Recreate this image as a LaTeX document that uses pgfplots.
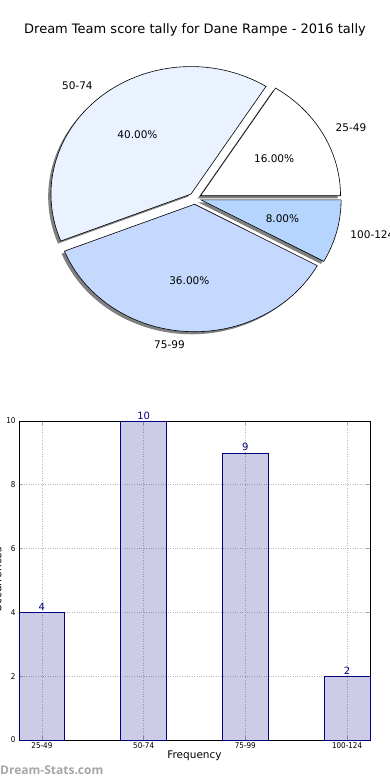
\documentclass[border=0pt]{standalone}
\usepackage{fontspec}
\setmainfont{DejaVu Sans}
\newfontfamily\cond{DejaVu Sans Condensed}
\newfontfamily\wm{Open Sans}
\usepackage{pgfplots}
\pgfplotsset{compat=1.18}
\definecolor{cA}{RGB}{255,255,255}
\definecolor{cB}{RGB}{234,241,255}
\definecolor{cC}{RGB}{197,217,255}
\definecolor{cD}{RGB}{181,213,255}
\definecolor{baredge}{RGB}{0,0,128}
\definecolor{shadowc}{RGB}{128,128,128}
\begin{document}
\begin{tikzpicture}
\useasboundingbox (0pt,0pt) rectangle (390pt,780pt);
\node[font=\fontsize{13}{15}\selectfont] at (195pt,750pt) {Dream Team score tally for Dane Rampe - 2016 tally};
% ---------------- pie (shares 16, 40, 36, 8 percent) ----------------
\begin{axis}[at={(0pt,430pt)}, anchor=south west, scale only axis,
  width=390pt, height=300pt,
  xmin=-1.392857, xmax=1.392857, ymin=-1.18824, ymax=1.16471,
  axis lines=none, clip=false]
% shadows
\addplot[fill=shadowc, draw=none, domain=0:57.6, samples=60] ({0.019434+cos(x)},{0.001679+sin(x)}) -- (0.019434,0.001679) -- cycle;
\addplot[fill=shadowc, draw=none, domain=57.6:201.6, samples=100] ({-0.048684+cos(x)},{0.014673+sin(x)}) -- (-0.048684,0.014673) -- cycle;
\addplot[fill=shadowc, draw=none, domain=201.6:331.2, samples=100] ({-0.0228256+cos(x)},{-0.064911+sin(x)}) -- (-0.0228256,-0.064911) -- cycle;
\addplot[fill=shadowc, draw=none, domain=331.2:360, samples=40] ({0.023586+cos(x)},{-0.031191+sin(x)}) -- (0.023586,-0.031191) -- cycle;
% wedges
\addplot[fill=cA, draw=black, line width=0.6pt, domain=0:57.6, samples=60] ({0.039434+cos(x)},{0.021679+sin(x)}) -- (0.039434,0.021679) -- cycle;
\addplot[fill=cB, draw=black, line width=0.6pt, domain=57.6:201.6, samples=100] ({-0.028684+cos(x)},{0.034673+sin(x)}) -- (-0.028684,0.034673) -- cycle;
\addplot[fill=cC, draw=black, line width=0.6pt, domain=201.6:331.2, samples=100] ({-0.0028256+cos(x)},{-0.044911+sin(x)}) -- (-0.0028256,-0.044911) -- cycle;
\addplot[fill=cD, draw=black, line width=0.6pt, domain=331.2:360, samples=40] ({0.043586+cos(x)},{-0.011191+sin(x)}) -- (0.043586,-0.011191) -- cycle;
% labels
\begin{scope}[every node/.style={font=\fontsize{10.5}{12}\selectfont, inner sep=0pt}]
\node[anchor=west] at (axis cs:1.003375,0.551604) {25-49};
\node[anchor=east] at (axis cs:-0.729846,0.882234) {50-74};
\node[anchor=east] at (axis cs:-0.071896,-1.142741) {75-99};
\node[anchor=west] at (axis cs:1.109027,-0.28475) {100-124};
\node at (axis cs:0.56522,0.310729) {16.00\%};
\node at (axis cs:-0.411136,0.496979) {40.00\%};
\node at (axis cs:-0.0405,-0.643727) {36.00\%};
\node at (axis cs:0.624736,-0.160405) {8.00\%};
\end{scope}
\end{axis}
% ---------------- bar chart ----------------
\begin{axis}[at={(19pt,40pt)}, anchor=south west, scale only axis,
  width=351pt, height=319pt,
  xmin=-0.225, xmax=3.225, ymin=0, ymax=10,
  ybar, bar width=0.45,
  xtick={0,1,2,3}, xticklabels={25-49,50-74,75-99,100-124},
  ytick={0,2,4,6,8,10},
  grid=major, grid style={gray!55, dotted, line width=0.7pt},
  tick align=inside, major tick length=4pt,
  tick style={gray!70, line width=0.6pt},
  ticklabel style={font=\cond\fontsize{8}{9}\selectfont},
  xticklabel style={yshift=1pt},
  /pgf/number format/assume math mode=true,
  xlabel={Frequency},
  xlabel style={font=\fontsize{10.5}{12}\selectfont, yshift=5pt},
  nodes near coords,
  nodes near coords style={font=\fontsize{10}{12}\selectfont, text=baredge, inner sep=1.5pt, text opacity=1},
  axis line style={black, line width=0.8pt},
  clip=false]
\addplot[fill=baredge, fill opacity=0.2, draw=baredge, draw opacity=1, line width=0.7pt] coordinates {(0,4) (1,10) (2,9) (3,2)};
\end{axis}
\node[rotate=90, anchor=base, font=\fontsize{10.5}{12}\selectfont] at (1.5pt,200pt) {Occurrences};
\node[anchor=west, inner sep=0pt, font=\wm\bfseries\fontsize{12}{14}\selectfont, text=gray!70] at (0pt,10pt) {Dream-Stats.com};
\end{tikzpicture}
\end{document}
